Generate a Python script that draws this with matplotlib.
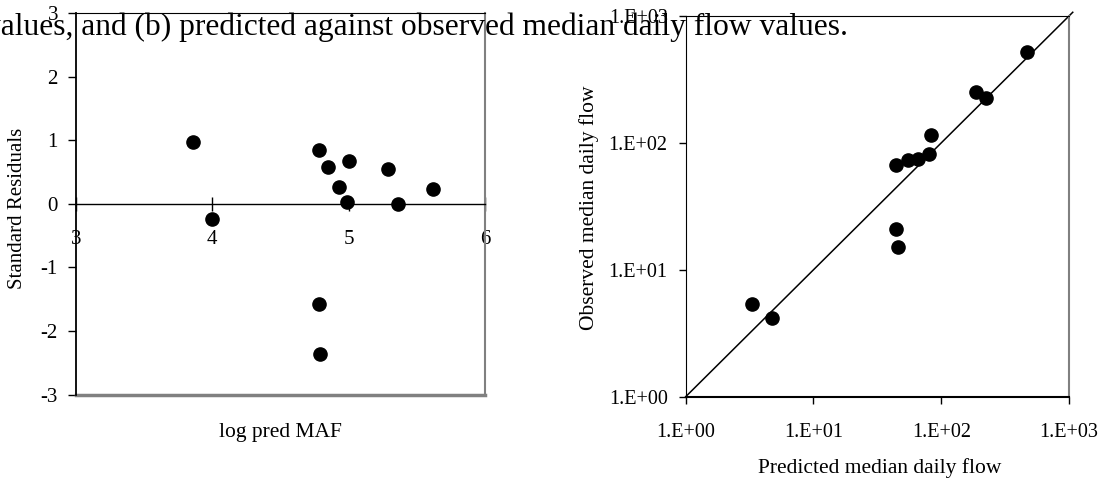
import matplotlib
matplotlib.use("Agg")
import matplotlib.pyplot as plt
from matplotlib.ticker import FixedLocator, FixedFormatter

plt.rcParams["font.family"] = ["Liberation Serif", "DejaVu Serif"]
plt.rcParams["axes.unicode_minus"] = False

# (a) standard residuals against log predicted MAF
log_pred_maf = [3.86, 4.00, 4.78, 4.85, 5.00, 4.93, 4.99, 5.29, 5.36, 5.62, 4.78, 4.79]
std_residuals = [0.98, -0.24, 0.84, 0.58, 0.68, 0.27, 0.03, 0.55, 0.00, 0.24, -1.58, -2.36]

# (b) predicted vs observed median daily flow
pred_flow = [466, 187, 225, 83, 44.5, 55, 66, 80.5, 44.5, 45.8, 3.3, 4.76]
obs_flow = [523, 253, 224, 115, 67, 73, 74.3, 82, 21.1, 15.0, 5.35, 4.19]

left_xticks = [3, 4, 5, 6]
left_yticks = [-3, -2, -1, 0, 1, 2, 3]
log_ticks = [1, 10, 100, 1000]
log_labels = ["1.E+00", "1.E+01", "1.E+02", "1.E+03"]

W, H = 1102, 479
fig = plt.figure(figsize=(W / 100, H / 100), dpi=100)


def px_axes(x0, y0, x1, y1):
    return fig.add_axes([x0 / W, 1 - y1 / H, (x1 - x0) / W, (y1 - y0) / H])


gray = "#808080"

# ---- left panel ----
ax1 = px_axes(76, 13, 485, 394.7)
ax1.plot(log_pred_maf, std_residuals, "o", color="black", markersize=9.5, clip_on=False)
ax1.set_xlim(3, 6)
ax1.set_ylim(-3, 3)
ax1.spines["bottom"].set_position(("data", 0))
ax1.spines["bottom"].set_linewidth(1.0)
ax1.spines["left"].set_linewidth(1.3)
ax1.spines["top"].set_color("black")
ax1.spines["right"].set_color(gray)
ax1.spines["right"].set_linewidth(1.5)
ax1.axhline(-3, color=gray, lw=2.5, clip_on=False)
ax1.xaxis.set_major_locator(FixedLocator(left_xticks))
ax1.yaxis.set_major_locator(FixedLocator(left_yticks))
ax1.tick_params(axis="x", direction="inout", length=10, width=1, pad=13.5, labelsize=15)
ax1.tick_params(axis="y", direction="out", length=6, width=1, pad=7, labelsize=15)
ax1.set_facecolor("none")

fig.text(280 / W, 1 - 433 / H, "log pred MAF", ha="center", va="center", fontsize=15.5)
fig.text(18 / W, 1 - 208 / H, "Standard Residuals", ha="center", va="center",
         rotation=90, fontsize=15)

# ---- right panel ----
ax2 = px_axes(685.7, 16, 1069, 396.7)
ax2.set_xscale("log")
ax2.set_yscale("log")
ax2.set_xlim(1, 1000)
ax2.set_ylim(1, 1000)
ax2.plot([1, 1070], [1, 1070], color="black", lw=1.1, clip_on=False)
ax2.plot(pred_flow, obs_flow, "o", color="black", markersize=9.5)
ax2.spines["right"].set_color(gray)
ax2.spines["right"].set_linewidth(1.5)
ax2.spines["bottom"].set_linewidth(1.5)
ax2.xaxis.set_major_locator(FixedLocator(log_ticks))
ax2.xaxis.set_major_formatter(FixedFormatter(log_labels))
ax2.yaxis.set_major_locator(FixedLocator(log_ticks))
ax2.yaxis.set_major_formatter(FixedFormatter(log_labels))
ax2.minorticks_off()
ax2.tick_params(axis="x", direction="out", length=5, width=1, pad=14, labelsize=14.5)
ax2.tick_params(axis="y", direction="out", length=5, width=1, pad=8, labelsize=14.5)
ax2.set_facecolor("none")

fig.text(880 / W, 1 - 468 / H, "Predicted median daily flow", ha="center", va="center",
         fontsize=15.5)
fig.text(589 / W, 1 - 208 / H, "Observed median daily flow", ha="center", va="center",
         rotation=90, fontsize=15.5)

# caption text cut off at the top of the page
fig.text(848 / W, 1 - 35 / H,
         "values, and (b) predicted against observed median daily flow values.",
         ha="right", va="baseline", fontsize=22.7)

fig.savefig("out.png", dpi=100)
